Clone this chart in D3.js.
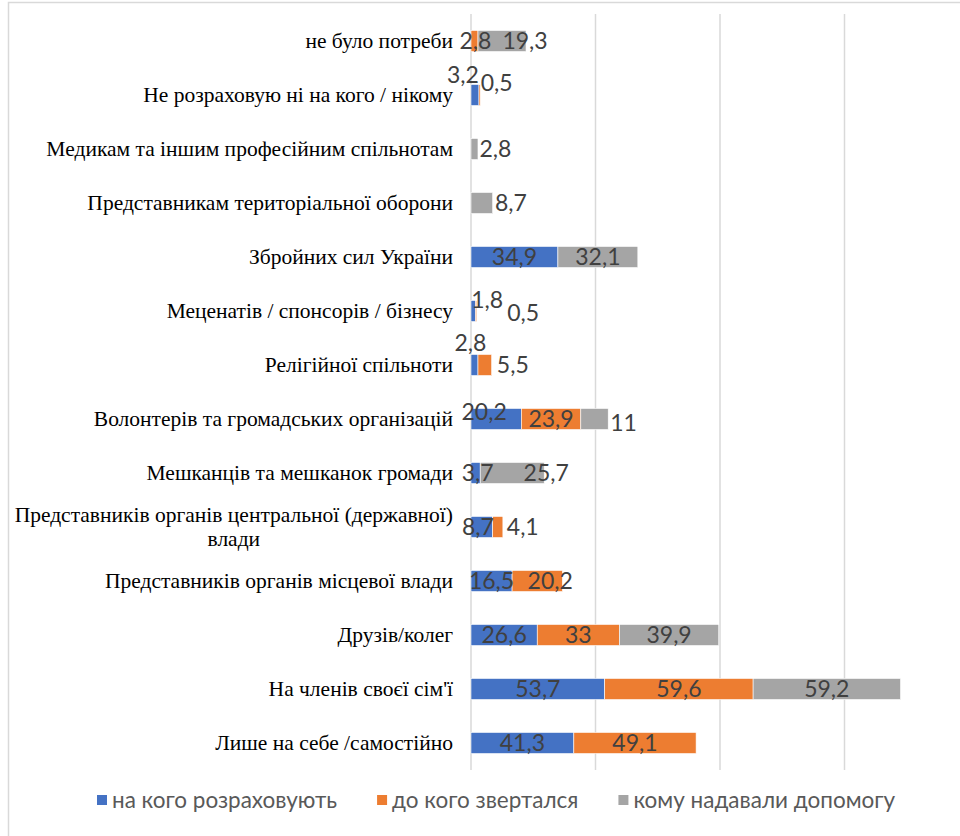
<!DOCTYPE html>
<html>
<head>
<meta charset="utf-8">
<script src="https://cdn.jsdelivr.net/npm/d3@7"></script>
<style>
  html, body { margin: 0; padding: 0; background: #fff; }
  svg { display: block; }
</style>
</head>
<body>
<svg id="chart" width="960" height="836"></svg>
<script>
// Categories, top to bottom
const categories = [
  "не було потреби",
  "Не розраховую ні на кого / нікому",
  "Медикам та іншим професійним спільнотам",
  "Представникам територіальної оборони",
  "Збройних сил України",
  "Меценатів / спонсорів / бізнесу",
  "Релігійної спільноти",
  "Волонтерів та громадських організацій",
  "Мешканців та мешканок громади",
  "Представників органів центральної (державної) влади",
  "Представників органів місцевої влади",
  "Друзів/колег",
  "На членів своєї сім'ї",
  "Лише на себе /самостійно"
];

const seriesNames = ["на кого розраховують", "до кого звертался", "кому надавали допомогу"];

// Values per series (null = no bar)
const relyOn   = [null, 3.2, null, null, 34.9, 1.8, 2.8, 20.2, 3.7, 8.7, 16.5, 26.6, 53.7, 41.3];
const turnedTo = [2.8, 0.5, null, null, null, 0.5, 5.5, 23.9, null, 4.1, 20.2, 33, 59.6, 49.1];
const helped   = [19.3, null, 2.8, 8.7, 32.1, null, null, 11, 25.7, null, null, 39.9, 59.2, null];

const xTicks = [0, 50, 100, 150, 200];

const seriesColors = ["#4472C4", "#ED7D31", "#A5A5A5"];

// Manual shifts of individual value labels (row, series, dx, dy in px)
const labelShifts = [
  [0, 1, 1, 0], [0, 2, 23, 0],
  [1, 0, -12, -20], [1, 1, 17, -12],
  [2, 2, 21, 0],
  [3, 2, 29, 0],
  [5, 0, 14, -11], [5, 1, 47, 2],
  [6, 0, -4, -22], [6, 1, 28, 0],
  [7, 0, -12, -7], [7, 2, 29, 4],
  [8, 0, 2, 0], [8, 2, 34, 0],
  [9, 0, -4, 0], [9, 1, 25, 0],
  [10, 1, 13, 0]
];

const svg = d3.select("#chart");
const W = 960, H = 836;

// chart frame
svg.append("path")
  .attr("d", `M8.5,${H} V2.5 H${W}`)
  .attr("fill", "none")
  .attr("stroke", "#d9d9d9")
  .attr("stroke-width", 1.5);

const x = d3.scaleLinear().domain([0, 200]).range([471, 969]);
const y = d3.scaleBand().domain(categories).range([14, 770]).paddingInner(0.61).paddingOuter(0.305);

// vertical gridlines
svg.append("g").selectAll("line").data(xTicks).join("line")
  .attr("x1", d => x(d)).attr("x2", d => x(d))
  .attr("y1", 14).attr("y2", 770)
  .attr("stroke", "#d9d9d9").attr("stroke-width", 1.5);

// stack the series
const seriesValues = [relyOn, turnedTo, helped];
const segments = [];
categories.forEach((c, i) => {
  let acc = 0;
  seriesValues.forEach((vals, s) => {
    const v = vals[i];
    if (v == null) return;
    segments.push({ row: i, cat: c, s, v, x0: acc, x1: acc + v });
    acc += v;
  });
});

svg.append("g").selectAll("rect").data(segments).join("rect")
  .attr("x", d => x(d.x0))
  .attr("y", d => y(d.cat))
  .attr("width", d => x(d.x1) - x(d.x0))
  .attr("height", y.bandwidth())
  .attr("fill", d => seriesColors[d.s])
  .attr("stroke", "#fff")
  .attr("stroke-width", 0.6);

// value labels
const fmt = v => String(v).replace(".", ",");
const shiftOf = (row, s) => {
  const f = labelShifts.find(a => a[0] === row && a[1] === s);
  return f ? [f[2], f[3]] : [0, 0];
};
svg.append("g").selectAll("text").data(segments).join("text")
  .attr("x", d => (x(d.x0) + x(d.x1)) / 2 + shiftOf(d.row, d.s)[0])
  .attr("y", d => y(d.cat) + y.bandwidth() / 2 + shiftOf(d.row, d.s)[1])
  .attr("dy", "0.36em")
  .attr("text-anchor", "middle")
  .attr("font-family", "Lato, 'Open Sans', sans-serif")
  .attr("font-size", 23)
  .attr("fill", "#404040")
  .text(d => fmt(d.v));

// category labels (wrapped when too long)
const labelRight = 453;
const maxLabelWidth = 440;
const catG = svg.append("g")
  .attr("font-family", "'Liberation Serif', 'Times New Roman', serif")
  .attr("font-size", 21.5)
  .attr("fill", "#000");

categories.forEach(c => {
  const cy = y(c) + y.bandwidth() / 2;
  const t = catG.append("text").attr("text-anchor", "end").attr("x", labelRight);
  t.text(c);
  if (t.node().getComputedTextLength() <= maxLabelWidth) {
    t.attr("y", cy).attr("dy", "0.33em");
    return;
  }
  // wrap into lines
  const words = c.split(" ");
  const lines = [];
  let cur = [];
  t.text("");
  const probe = catG.append("text");
  words.forEach(w => {
    const test = cur.concat(w).join(" ");
    probe.text(test);
    if (probe.node().getComputedTextLength() > maxLabelWidth && cur.length) {
      lines.push(cur.join(" "));
      cur = [w];
    } else cur.push(w);
  });
  lines.push(cur.join(" "));
  let maxW = 0;
  lines.forEach(l => { probe.text(l); maxW = Math.max(maxW, probe.node().getComputedTextLength()); });
  probe.remove();
  const lh = 24;
  t.attr("text-anchor", "middle");
  lines.forEach((l, k) => {
    t.append("tspan")
      .attr("x", labelRight - maxW / 2)
      .attr("y", cy + (k - (lines.length - 1) / 2) * lh)
      .attr("dy", "0.33em")
      .text(l);
  });
});

// legend
const legend = svg.append("g")
  .attr("font-family", "Lato, 'Open Sans', sans-serif")
  .attr("font-size", 22.5)
  .attr("fill", "#595959");
let lx = 97;
const ly = 800;
seriesNames.forEach((name, s) => {
  legend.append("rect")
    .attr("x", lx).attr("y", ly - 5).attr("width", 10).attr("height", 10)
    .attr("fill", seriesColors[s]);
  const tx = legend.append("text")
    .attr("x", lx + 15).attr("y", ly).attr("dy", "0.35em")
    .text(name);
  lx += 15 + tx.node().getComputedTextLength() + 40;
});
</script>
</body>
</html>
